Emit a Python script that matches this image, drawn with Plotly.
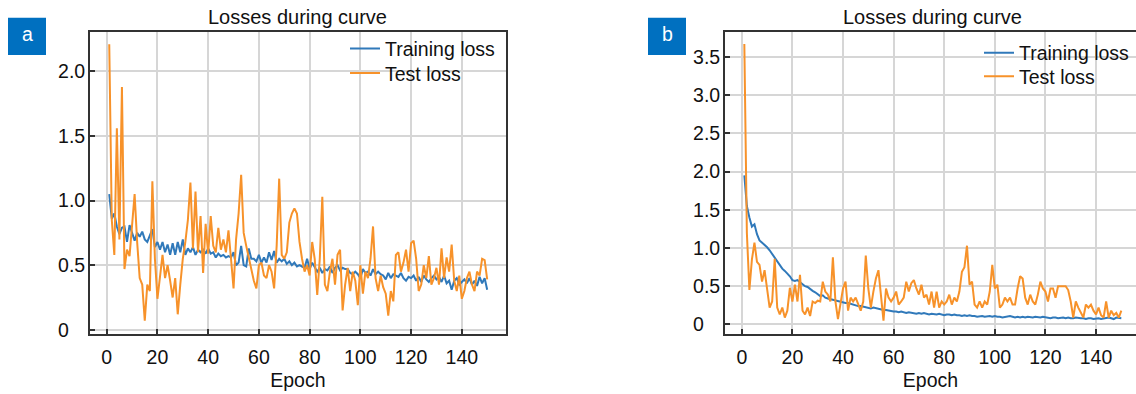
import plotly.graph_objects as go

# ---------------- data ----------------
epochs = list(range(1, 151))

train_a = [1.05, 0.86, 0.90, 0.80, 0.74, 0.79, 0.80, 0.68, 0.81, 0.74,
           0.69, 0.75, 0.72, 0.76, 0.70, 0.68, 0.73, 0.78, 0.64, 0.68,
           0.62, 0.68, 0.60, 0.66, 0.58, 0.67, 0.58, 0.68, 0.60, 0.70,
           0.58, 0.63, 0.60, 0.64, 0.58, 0.62, 0.60, 0.62, 0.59, 0.63,
           0.59, 0.60, 0.56, 0.59, 0.57, 0.58, 0.56, 0.57, 0.56, 0.60,
           0.50, 0.52, 0.65, 0.50, 0.49, 0.63, 0.55, 0.55, 0.53, 0.58,
           0.52, 0.56, 0.52, 0.60, 0.54, 0.61, 0.52, 0.55, 0.53, 0.55,
           0.51, 0.53, 0.50, 0.52, 0.49, 0.50, 0.49, 0.48, 0.55, 0.47,
           0.52, 0.49, 0.45, 0.48, 0.44, 0.47, 0.46, 0.49, 0.44, 0.48,
           0.50, 0.46, 0.48, 0.47, 0.47, 0.44, 0.43, 0.45, 0.43, 0.40,
           0.47, 0.44, 0.45, 0.42, 0.47, 0.43, 0.45, 0.43, 0.42, 0.39,
           0.44, 0.40, 0.43, 0.42, 0.41, 0.44, 0.40, 0.38, 0.41, 0.40,
           0.42, 0.38, 0.41, 0.37, 0.42, 0.39, 0.37, 0.40, 0.42, 0.39,
           0.41, 0.37, 0.42, 0.36, 0.38, 0.31, 0.38, 0.40, 0.35, 0.37,
           0.39, 0.36, 0.40, 0.35, 0.38, 0.34, 0.41, 0.36, 0.40, 0.31]

test_a = [2.21, 0.85, 0.58, 1.56, 0.70, 1.88, 0.47, 0.62, 0.57, 0.80,
          1.05, 0.68, 0.40, 0.35, 0.07, 0.35, 0.30, 1.15, 0.55, 0.24,
          0.40, 0.58, 0.40, 0.50, 0.38, 0.25, 0.40, 0.12, 0.35, 0.55,
          0.68, 0.85, 1.14, 0.63, 1.07, 0.60, 0.88, 0.44, 0.82, 0.59,
          0.88, 0.65, 0.60, 0.79, 0.62, 0.70, 0.60, 0.77, 0.55, 0.32,
          0.70, 0.90, 1.20, 0.75, 0.65, 0.55, 0.45, 0.38, 0.32, 0.50,
          0.52, 0.42, 0.40, 0.50, 0.45, 0.32, 0.65, 1.17, 0.58, 0.55,
          0.60, 0.83, 0.90, 0.94, 0.90, 0.68, 0.55, 0.45, 0.50, 0.42,
          0.68, 0.55, 0.27, 0.55, 1.03, 0.35, 0.30, 0.45, 0.55, 0.35,
          0.58, 0.62, 0.15, 0.35, 0.48, 0.30, 0.45, 0.38, 0.19, 0.50,
          0.28, 0.45, 0.40, 0.55, 0.80, 0.40, 0.30, 0.42, 0.33, 0.28,
          0.11, 0.30, 0.22, 0.58, 0.60, 0.45, 0.52, 0.62, 0.45, 0.67,
          0.69, 0.55, 0.30, 0.35, 0.50, 0.40, 0.57, 0.35, 0.40, 0.48,
          0.35, 0.63, 0.40, 0.56, 0.45, 0.66, 0.38, 0.30, 0.42, 0.24,
          0.30, 0.40, 0.45, 0.35, 0.30, 0.45, 0.42, 0.55, 0.54, 0.39]

train_b = [1.95, 1.55, 1.40, 1.28, 1.31, 1.18, 1.10, 1.07, 1.05, 1.01,
           0.97, 0.92, 0.88, 0.82, 0.78, 0.73, 0.70, 0.67, 0.63, 0.58,
           0.57, 0.58, 0.55, 0.53, 0.50, 0.49, 0.46, 0.44, 0.42, 0.39,
           0.37, 0.38, 0.35, 0.34, 0.33, 0.32, 0.31, 0.30, 0.30, 0.29,
           0.28, 0.28, 0.27, 0.26, 0.25, 0.24, 0.24, 0.23, 0.22, 0.22,
           0.21, 0.22, 0.21, 0.20, 0.20, 0.19, 0.19, 0.18, 0.18, 0.17,
           0.17, 0.16, 0.17, 0.16, 0.15, 0.16, 0.15, 0.15, 0.14, 0.15,
           0.14, 0.15, 0.14, 0.13, 0.14, 0.13, 0.13, 0.14, 0.13, 0.12,
           0.13, 0.13, 0.12, 0.13, 0.12, 0.12, 0.11, 0.12, 0.11, 0.12,
           0.11, 0.11, 0.10, 0.11, 0.11, 0.10, 0.11, 0.11, 0.10, 0.11,
           0.10, 0.10, 0.09, 0.10, 0.10, 0.11, 0.10, 0.09, 0.10, 0.09,
           0.10, 0.09, 0.10, 0.09, 0.09, 0.10, 0.09, 0.09, 0.10, 0.09,
           0.09, 0.08, 0.09, 0.09, 0.08, 0.09, 0.09, 0.08, 0.09, 0.08,
           0.08, 0.09, 0.08, 0.08, 0.08, 0.07, 0.08, 0.08, 0.07, 0.08,
           0.08, 0.07, 0.08, 0.08, 0.09, 0.08, 0.07, 0.09, 0.08, 0.08]

test_b = [3.67, 1.20, 0.45, 0.85, 1.07, 0.82, 0.78, 0.56, 0.71, 0.48,
          0.22, 0.30, 0.86, 0.22, 0.13, 0.22, 0.09, 0.18, 0.48, 0.30,
          0.52, 0.30, 0.65, 0.18, 0.13, 0.22, 0.11, 0.30, 0.28, 0.31,
          0.30, 0.56, 0.43, 0.39, 0.30, 0.88, 0.30, 0.07, 0.30, 0.47,
          0.56, 0.18, 0.35, 0.30, 0.35, 0.26, 0.18, 0.30, 0.90, 0.47,
          0.22, 0.43, 0.60, 0.71, 0.39, 0.05, 0.47, 0.35, 0.30, 0.35,
          0.43, 0.26, 0.30, 0.35, 0.56, 0.43, 0.54, 0.58, 0.47, 0.39,
          0.52, 0.35, 0.39, 0.26, 0.43, 0.22, 0.43, 0.22, 0.30, 0.26,
          0.30, 0.39, 0.26, 0.35, 0.30, 0.43, 0.69, 0.75, 1.03, 0.52,
          0.56, 0.26, 0.22, 0.30, 0.22, 0.30, 0.26, 0.43, 0.78, 0.47,
          0.52, 0.22, 0.26, 0.35, 0.30, 0.35, 0.26, 0.26, 0.47, 0.63,
          0.60, 0.35, 0.26, 0.39, 0.30, 0.26, 0.39, 0.56, 0.47, 0.43,
          0.30, 0.47, 0.47, 0.35, 0.50, 0.50, 0.50, 0.50, 0.45, 0.30,
          0.09, 0.30, 0.22, 0.15, 0.09, 0.26, 0.22, 0.26, 0.18, 0.13,
          0.22, 0.12, 0.09, 0.30, 0.09, 0.18, 0.12, 0.15, 0.09, 0.18]

x_ticks = [0, 20, 40, 60, 80, 100, 120, 140]
y_ticks_a = [0, 0.5, 1.0, 1.5, 2.0]
y_ticks_b = [0, 0.5, 1.0, 1.5, 2.0, 2.5, 3.0, 3.5]
PAD0 = "0" + "\u00a0" * 3 + "\u200b"   # "0" padded so it sits left-aligned like the reference
y_text_a = [PAD0] + [f"{v:.1f}" for v in y_ticks_a[1:]]
y_text_b = [PAD0] + [f"{v:.1f}" for v in y_ticks_b[1:]]

# ---------------- style ----------------
W, H = 1136, 394
FONT = "Liberation Sans, Arial, sans-serif"
FS = 19.5
BLUE = "#3079ba"
ORANGE = "#f7922a"
GRID = "#d6d6d6"
AXC = "#333333"
TXT = "#111111"


def px(x):
    return x / W


def py(y):
    return 1 - y / H


fig = go.Figure()
fig.add_trace(go.Scatter(x=epochs, y=train_a, mode="lines", name="Training loss",
                         line=dict(color=BLUE, width=2), xaxis="x", yaxis="y", legend="legend"))
fig.add_trace(go.Scatter(x=epochs, y=test_a, mode="lines", name="Test loss",
                         line=dict(color=ORANGE, width=2), xaxis="x", yaxis="y", legend="legend2"))
fig.add_trace(go.Scatter(x=epochs, y=train_b, mode="lines", name="Training loss",
                         line=dict(color=BLUE, width=2), xaxis="x2", yaxis="y2", legend="legend3"))
fig.add_trace(go.Scatter(x=epochs, y=test_b, mode="lines", name="Test loss",
                         line=dict(color=ORANGE, width=2), xaxis="x2", yaxis="y2", legend="legend4"))

ydom = [py(339.7), py(32.5)]

common_x = dict(tickvals=x_ticks, ticks="inside", ticklen=5, tickwidth=1.5, tickcolor=AXC,
                showline=True, linecolor=AXC, linewidth=1.8, mirror=True,
                showgrid=True, gridcolor=GRID, gridwidth=1.5, zeroline=False,
                ticklabelstandoff=5,
                tickfont=dict(family=FONT, size=FS, color=TXT),
                title=dict(text="Epoch", font=dict(family=FONT, size=FS, color=TXT), standoff=6))
common_y = dict(ticks="inside", ticklen=5, tickwidth=1.5, tickcolor=AXC,
                showline=True, linecolor=AXC, linewidth=1.8,
                showgrid=True, gridcolor=GRID, gridwidth=1.5, zeroline=False,
                ticklabelstandoff=-1,
                tickfont=dict(family=FONT, size=FS, color=TXT))

leg_common = dict(xanchor="left", yanchor="top", bgcolor="rgba(0,0,0,0)", borderwidth=0,
                  font=dict(family=FONT, size=FS, color=TXT), tracegroupgap=0, itemwidth=30)
LEG_OFF = 18.5  # distance from legend top to its row centre

fig.update_layout(
    width=W, height=H,
    margin=dict(l=0, r=0, t=0, b=0),
    paper_bgcolor="white", plot_bgcolor="white",
    font=dict(family=FONT, size=FS, color=TXT),
    xaxis=dict(domain=[px(90), px(505.7)], range=[-6.59, 157.3], anchor="y", **common_x),
    yaxis=dict(domain=ydom, range=[-0.030, 2.306], anchor="x", mirror=True,
               tickvals=y_ticks_a, ticktext=y_text_a, **common_y),
    xaxis2=dict(domain=[px(725), 1.0], range=[-6.64, 155.8], anchor="y2", **common_x),
    yaxis2=dict(domain=ydom, range=[-0.121, 3.828], anchor="x2", mirror=False,
                tickvals=y_ticks_b, ticktext=y_text_b, **common_y),
    legend=dict(x=px(345), y=py(48.3 - LEG_OFF), **leg_common),
    legend2=dict(x=px(345), y=py(73.3 - LEG_OFF), **leg_common),
    legend3=dict(x=px(979), y=py(52.7 - LEG_OFF), **leg_common),
    legend4=dict(x=px(979), y=py(76.7 - LEG_OFF), **leg_common),
    showlegend=True,
)

# white legend backgrounds (above grid, below traces)
for (x0, x1, y1) in ((340, 502, 88), (976, 1136, 90)):
    fig.add_shape(type="rect", xref="paper", yref="paper", x0=px(x0), x1=px(x1),
                  y0=py(y1), y1=py(33.5), fillcolor="white", line=dict(width=0), layer="between")

# titles
for cx in (297.8, 932.5):
    fig.add_annotation(text="Losses during curve", x=px(cx), y=py(17), xref="paper", yref="paper",
                       xanchor="center", yanchor="middle", showarrow=False,
                       font=dict(family=FONT, size=20, color=TXT))

# panel labels
for (x0, x1, lab) in ((8, 46, "a"), (648, 686, "b")):
    fig.add_shape(type="rect", xref="paper", yref="paper", x0=px(x0), x1=px(x1),
                  y0=py(56), y1=py(18), fillcolor="#0070c0", line=dict(width=0), layer="above")
    fig.add_annotation(text=lab, x=px((x0 + x1) / 2), y=py(35), xref="paper", yref="paper",
                       xanchor="center", yanchor="middle", showarrow=False,
                       font=dict(family=FONT, size=FS, color="white"))

fig.write_html("out.html", config={"displayModeBar": False},
               post_script="document.body.style.margin='0';")
